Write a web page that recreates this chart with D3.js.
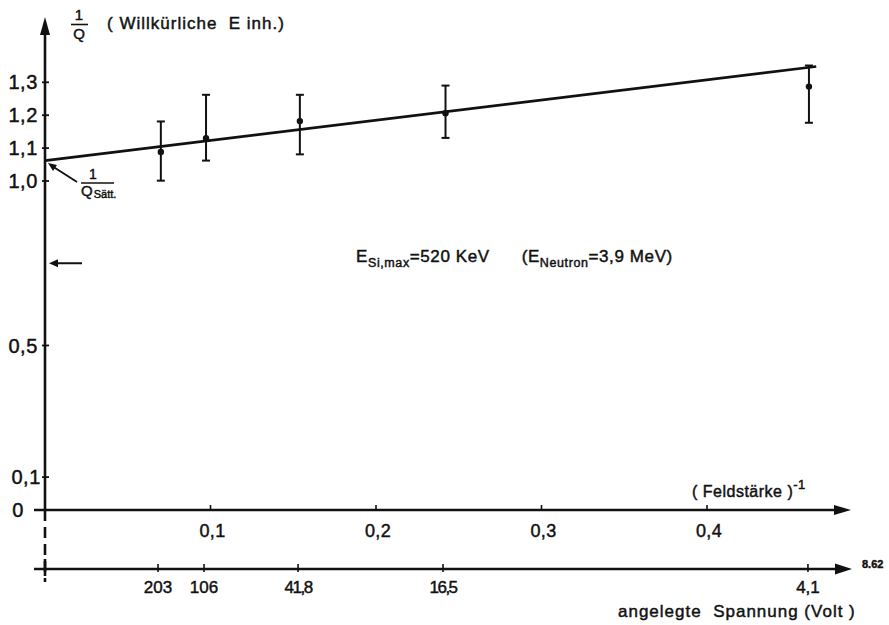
<!DOCTYPE html>
<html><head><meta charset="utf-8">
<script src="https://cdn.jsdelivr.net/npm/d3@7"></script>
<style>
html,body{margin:0;padding:0;background:#fff;}
svg text{font-family:"Liberation Sans",Arial,sans-serif;fill:#111;stroke:#111;stroke-width:0.45px;}
</style></head>
<body>
<svg id="chart" width="889" height="625"></svg>
<script>
// ---- data ----
const inverseField = [0.070, 0.0973, 0.154, 0.242, 0.4616];   // (Feldstärke)^-1
const invQ         = [1.088, 1.130, 1.182, 1.206, 1.287];      // 1/Q
const errHigh      = [1.181, 1.262, 1.262, 1.290, 1.351];
const errLow       = [1.001, 1.062, 1.081, 1.131, 1.177];
const fitX = [0, 0.466];
const fitY = [1.062, 1.348];
const xTicks = [0.1, 0.2, 0.3, 0.4];
const xTickLabels = ["0,1", "0,2", "0,3", "0,4"];
const yTicks = [0, 0.1, 0.5, 1.0, 1.1, 1.2, 1.3];
const yTickLabels = ["0", "0,1", "0,5", "1,0", "1,1", "1,2", "1,3"];
const voltTickPos = [0.0683, 0.0961, 0.1529, 0.2405, 0.461];
const voltTickLabels = ["203", "106", "41,8", "16,5", "4,1"];
const markerLevel = 0.75;

// ---- scales ----
const x = d3.scaleLinear().domain([0, 0.4]).range([45, 707]);
const y = d3.scaleLinear().domain([0, 1.3]).range([510, 82.3]);
const svg = d3.select("#chart");
const ink = "#111";

// Y axis line + arrow
svg.append("line").attr("x1", x(0)).attr("x2", x(0)).attr("y1", 30).attr("y2", y(0))
  .attr("stroke", ink).attr("stroke-width", 2.6);
svg.append("path").attr("d", `M${x(0)},17 L${x(0)-5},35 L${x(0)+5},35 Z`).attr("fill", ink);
// dashed continuation
svg.append("line").attr("x1", x(0)).attr("x2", x(0)).attr("y1", y(0)).attr("y2", 582)
  .attr("stroke", ink).attr("stroke-width", 2.6).attr("stroke-dasharray", "11,6");

// Y ticks
const yt = svg.append("g");
yt.selectAll("line").data(yTicks).join("line")
  .attr("x1", x(0) - 3).attr("x2", x(0) + 4)
  .attr("y1", d => y(d)).attr("y2", d => y(d))
  .attr("stroke", ink).attr("stroke-width", 1.8);
yt.selectAll("text").data(yTicks).join("text")
  .attr("x", (d, i) => d === 0 ? 24 : (d === 0.1 ? 41 : 38))
  .attr("y", d => y(d) + 7)
  .attr("text-anchor", "end")
  .attr("font-size", 20).attr("letter-spacing", "0.6px")
  .text((d, i) => yTickLabels[i]);

// X axis (Feldstärke^-1)
svg.append("line").attr("x1", 34).attr("x2", 838).attr("y1", y(0)).attr("y2", y(0))
  .attr("stroke", ink).attr("stroke-width", 2.6);
svg.append("path").attr("d", `M851,${y(0)} L834,${y(0)-5} L834,${y(0)+5} Z`).attr("fill", ink);
const xt = svg.append("g");
xt.selectAll("line").data(xTicks).join("line")
  .attr("x1", d => x(d)).attr("x2", d => x(d))
  .attr("y1", y(0) - 5).attr("y2", y(0) + 1)
  .attr("stroke", ink).attr("stroke-width", 1.6);
xt.selectAll("text").data(xTicks).join("text")
  .attr("x", d => x(d) + 2).attr("y", y(0) + 27)
  .attr("text-anchor", "middle").attr("font-size", 18).attr("letter-spacing", "0.4px")
  .text((d, i) => xTickLabels[i]);
const fl = svg.append("text").attr("x", 692).attr("y", 497).attr("font-size", 16).attr("letter-spacing", "0.5px");
fl.append("tspan").text("( Feldstärke )");
fl.append("tspan").attr("dy", -8).attr("font-size", 13).text("-1");

// Voltage axis
const vy = 569;
svg.append("line").attr("x1", 34).attr("x2", 838).attr("y1", vy).attr("y2", vy)
  .attr("stroke", ink).attr("stroke-width", 2.6);
svg.append("path").attr("d", `M852,${vy} L835,${vy-5.5} L835,${vy+5.5} Z`).attr("fill", ink);
svg.append("line").attr("x1", x(0)).attr("x2", x(0)).attr("y1", vy - 10).attr("y2", vy + 7)
  .attr("stroke", ink).attr("stroke-width", 2.6);
const vt = svg.append("g");
vt.selectAll("line").data(voltTickPos).join("line")
  .attr("x1", d => x(d)).attr("x2", d => x(d))
  .attr("y1", vy - 5).attr("y2", vy + 3)
  .attr("stroke", ink).attr("stroke-width", 1.6);
vt.selectAll("text").data(voltTickPos).join("text")
  .attr("x", d => x(d)).attr("y", vy + 24)
  .attr("text-anchor", "middle").attr("font-size", 17)
  .attr("letter-spacing", (d, i) => (i === 2 || i === 3) ? "-1.5px" : "0px")
  .text((d, i) => voltTickLabels[i]);
svg.append("text").attr("x", 862).attr("y", 568).attr("font-size", 11).attr("font-weight", "bold").text("8.62");
svg.append("text").attr("x", 618).attr("y", 617).attr("font-size", 17).attr("letter-spacing", "1px")
  .attr("xml:space", "preserve").text("angelegte  Spannung (Volt )");

// Fit line
svg.append("line")
  .attr("x1", x(fitX[0])).attr("y1", y(fitY[0]))
  .attr("x2", x(fitX[1])).attr("y2", y(fitY[1]))
  .attr("stroke", ink).attr("stroke-width", 2.6);

// Error bars + points
const pts = inverseField.map((v, i) => ({x: v, y: invQ[i], hi: errHigh[i], lo: errLow[i]}));
const eb = svg.append("g").attr("stroke", ink);
eb.selectAll("line.v").data(pts).join("line").attr("class", "v")
  .attr("x1", d => x(d.x)).attr("x2", d => x(d.x))
  .attr("y1", d => y(d.hi)).attr("y2", d => y(d.lo)).attr("stroke-width", 2);
eb.selectAll("line.t").data(pts).join("line").attr("class", "t")
  .attr("x1", d => x(d.x) - 4).attr("x2", d => x(d.x) + 4)
  .attr("y1", d => y(d.hi)).attr("y2", d => y(d.hi)).attr("stroke-width", 2);
eb.selectAll("line.b").data(pts).join("line").attr("class", "b")
  .attr("x1", d => x(d.x) - 4).attr("x2", d => x(d.x) + 4)
  .attr("y1", d => y(d.lo)).attr("y2", d => y(d.lo)).attr("stroke-width", 2);
svg.append("g").selectAll("circle").data(pts).join("circle")
  .attr("cx", d => x(d.x)).attr("cy", d => y(d.y)).attr("r", 3.2).attr("fill", ink);

// Y-axis title 1/Q (Willkürliche Einh.)
svg.append("text").attr("x", 79).attr("y", 20).attr("text-anchor", "middle").attr("font-size", 15).text("1");
svg.append("line").attr("x1", 71).attr("x2", 88).attr("y1", 24.5).attr("y2", 24.5).attr("stroke", ink).attr("stroke-width", 1.6);
svg.append("text").attr("x", 79).attr("y", 39).attr("text-anchor", "middle").attr("font-size", 15).text("Q");
svg.append("text").attr("x", 107).attr("y", 29).attr("font-size", 17).attr("letter-spacing", "1px")
  .attr("xml:space", "preserve").text("( Willkürliche  E inh.)");

// 1/Q_Sätt annotation
svg.append("line").attr("x1", 77).attr("y1", 182).attr("x2", 52).attr("y2", 166)
  .attr("stroke", ink).attr("stroke-width", 1.8);
svg.append("path").attr("d", "M48,163 L57,165 L53,171 Z").attr("fill", ink);
svg.append("text").attr("x", 89).attr("y", 179).attr("font-size", 14).text("1");
svg.append("line").attr("x1", 81).attr("x2", 114).attr("y1", 183).attr("y2", 183).attr("stroke", ink).attr("stroke-width", 1.6);
const qs = svg.append("text").attr("x", 81).attr("y", 196).attr("font-size", 15);
qs.append("tspan").text("Q");
qs.append("tspan").attr("dy", 2).attr("font-size", 11).attr("dx", 1).text("Sätt.");

// marker arrow on y axis
svg.append("line").attr("x1", 82).attr("x2", 56).attr("y1", y(markerLevel)).attr("y2", y(markerLevel))
  .attr("stroke", ink).attr("stroke-width", 2);
svg.append("path").attr("d", `M49,${y(markerLevel)} L58,${y(markerLevel)-4} L58,${y(markerLevel)+4} Z`).attr("fill", ink);

// Energy annotation
const ann = svg.append("text").attr("x", 356).attr("y", 262).attr("font-size", 17)
  .attr("letter-spacing", "0.6px").attr("xml:space", "preserve");
ann.append("tspan").text("E");
ann.append("tspan").attr("dy", 5).attr("font-size", 12.5).text("Si,max");
ann.append("tspan").attr("dy", -5).text("=520 KeV      (E");
ann.append("tspan").attr("dy", 5).attr("font-size", 12.5).text("Neutron");
ann.append("tspan").attr("dy", -5).text("=3,9 MeV)");
</script>
</body></html>
